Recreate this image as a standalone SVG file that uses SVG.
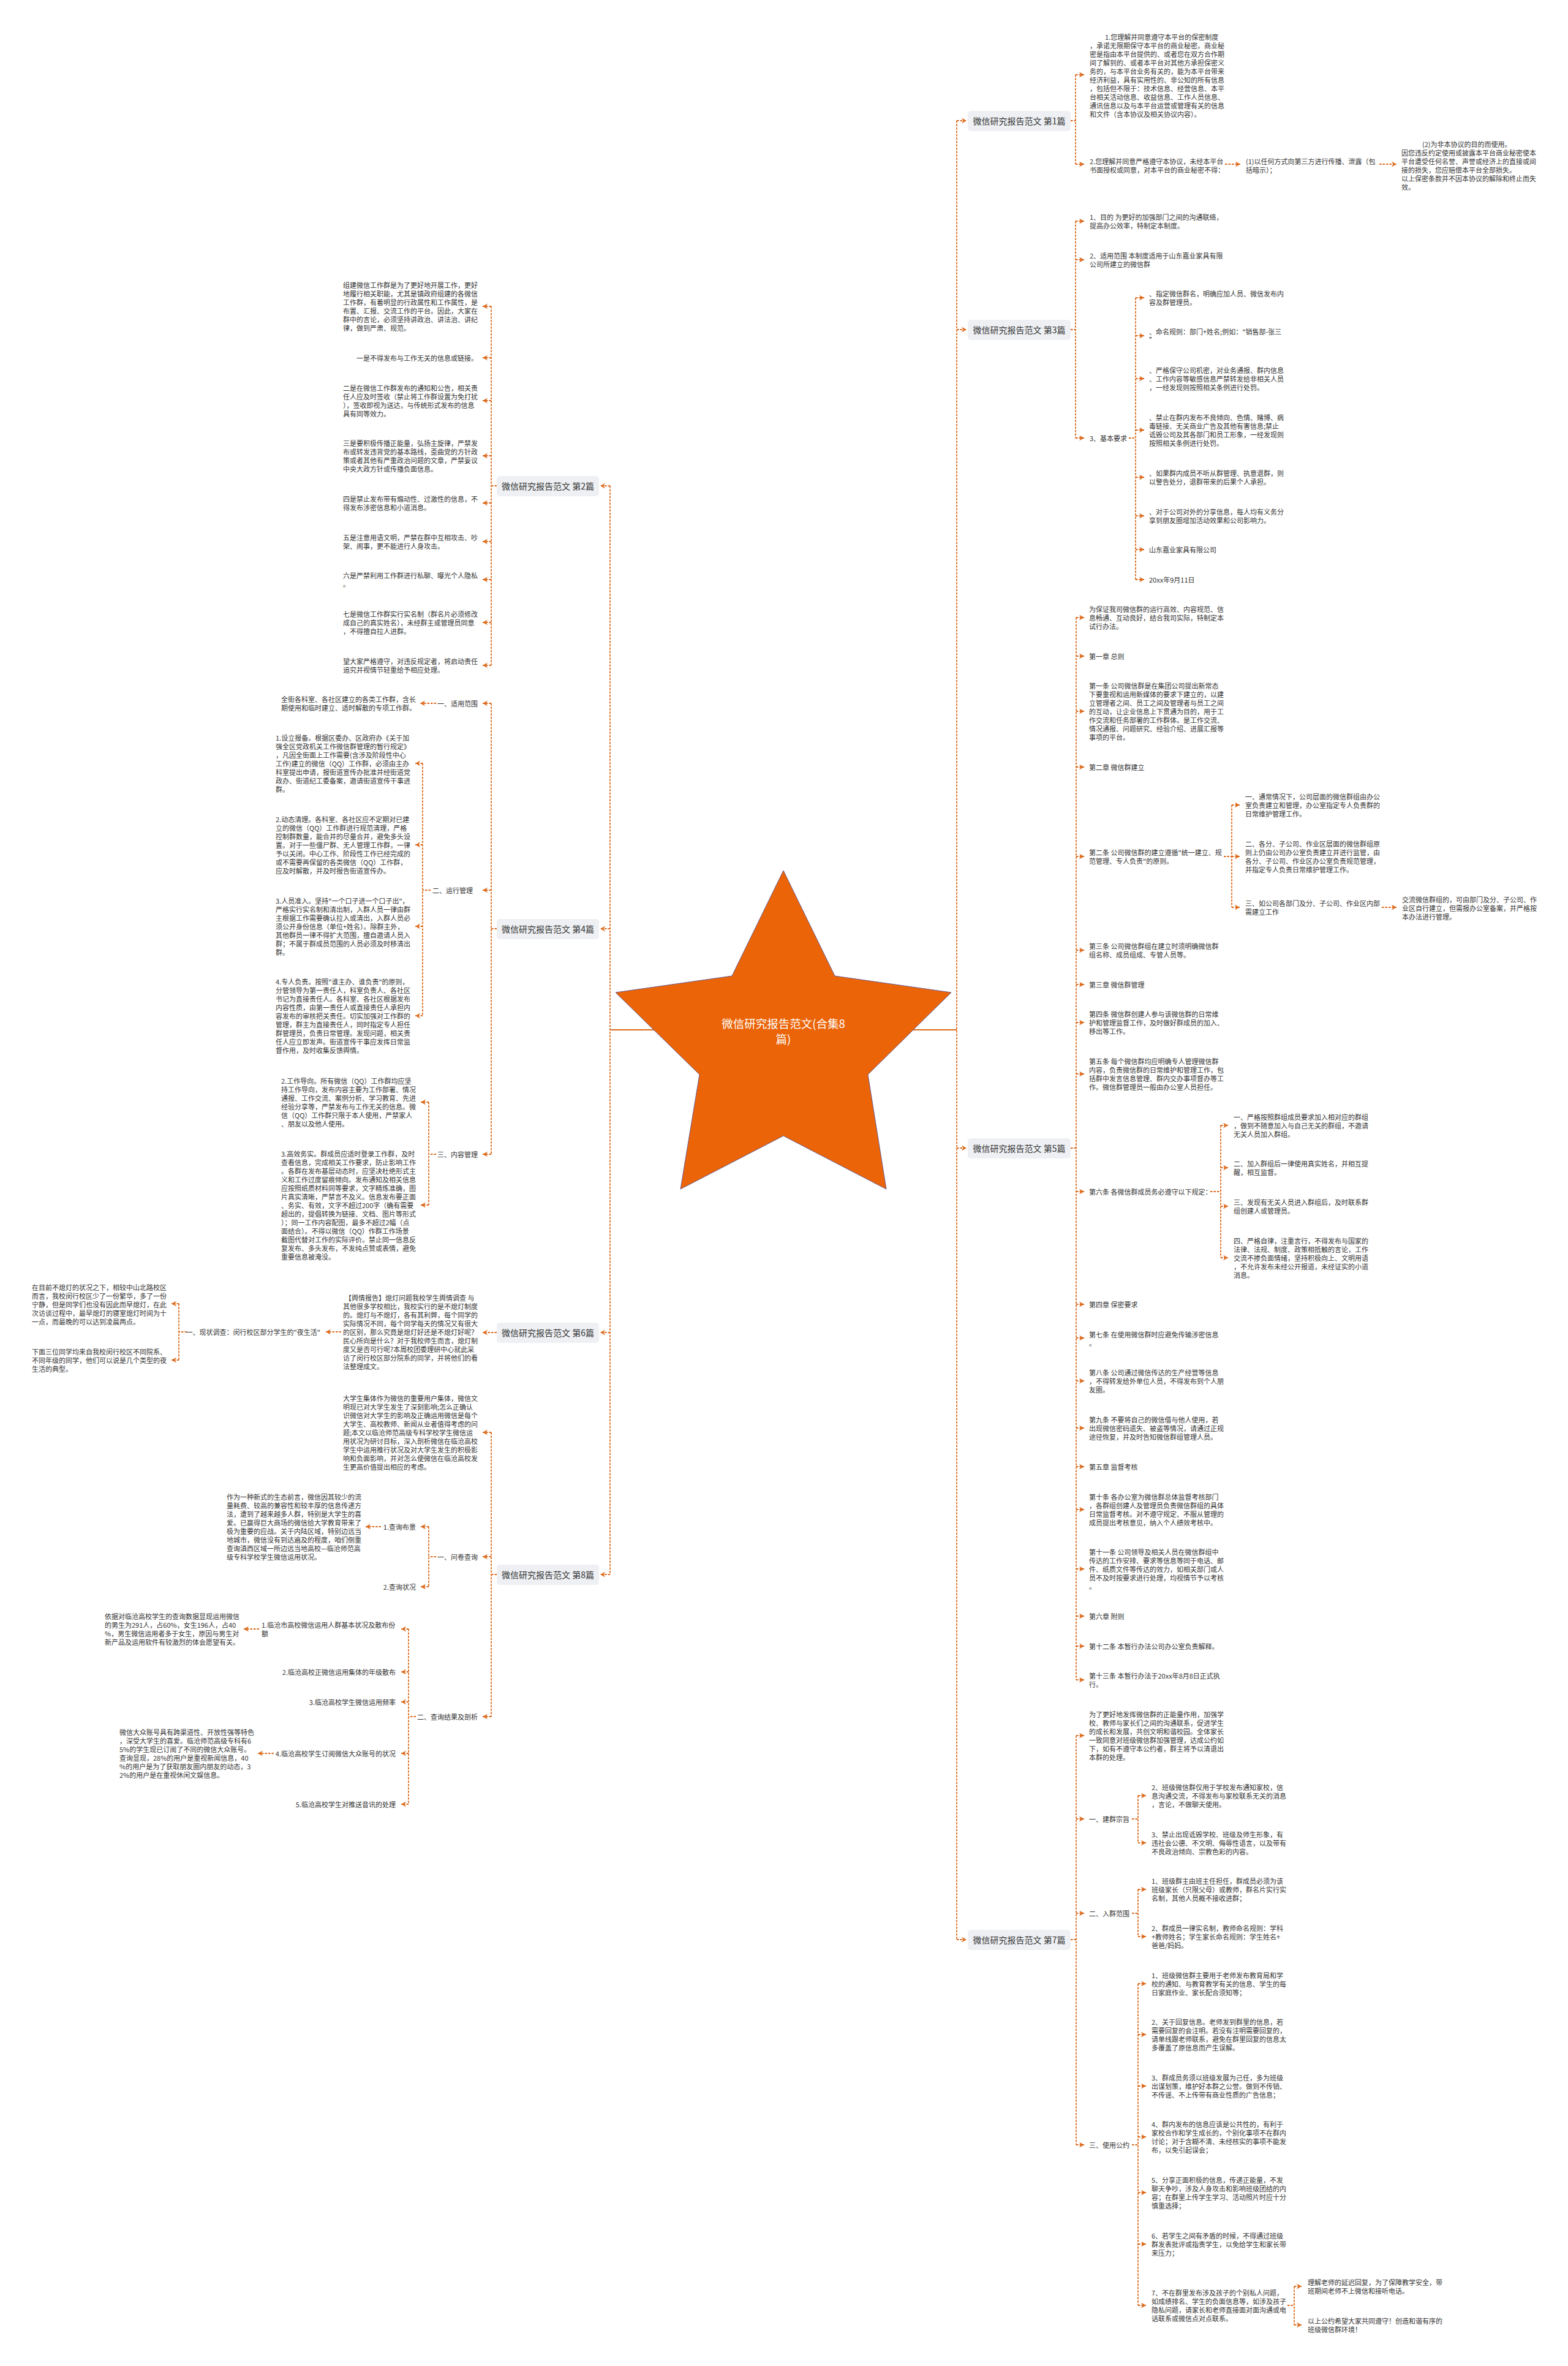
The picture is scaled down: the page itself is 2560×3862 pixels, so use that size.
<svg xmlns="http://www.w3.org/2000/svg" width="2560" height="3862" viewBox="0 0 2560 3862">
<style>
text{font-family:"Noto Sans CJK SC","Noto Sans",sans-serif;dominant-baseline:central}
.t{font-size:11px;fill:#333}
.e{text-anchor:end}
.n{font-size:14px;fill:#333;text-anchor:middle}
.bx{fill:#EEF0F3}
.c{fill:none;stroke:#DC6A1C;stroke-width:1.8;stroke-dasharray:3.5 2}
.h{marker-end:url(#a)}
.star{fill:#EB6407;stroke:#6B5B8E;stroke-width:1}
.title{font-size:18.5px;fill:#fff;text-anchor:middle}
</style>
<defs>
<marker id="a" markerUnits="userSpaceOnUse" markerWidth="10" markerHeight="10" refX="8" refY="4.5" orient="auto"><path d="M0,0 L8,4.5 L0,9 L2.5,4.5 Z" fill="#DC6A1C"/></marker>
</defs>
<rect width="2560" height="3862" fill="#fff"/>

<g id="connectors">
<path d="M996,1681 H1562" fill="none" stroke="#DC6A1C" stroke-width="2"/>
<path class="c" d="M1562,197 V3166 M996,793 V2570"/>
<path class="c h" d="M1562,197 H1578"/><path class="c h" d="M1562,538 H1578"/><path class="c h" d="M1562,1874 H1578"/><path class="c h" d="M1562,3166 H1578"/>
<path class="c h" d="M996,793 H980"/><path class="c h" d="M996,1516 H980"/><path class="c h" d="M996,2175 H980"/><path class="c h" d="M996,2570 H980"/>
<path class="c" d="M1748,197 H1756 M1756,122 V268"/>
<path class="c h" d="M1756,122 H1770"/><path class="c h" d="M1756,268 H1770"/>
<path class="c h" d="M2000,268 H2025"/><path class="c h" d="M2252,268 H2280"/>
<path class="c" d="M1748,538 H1756 M1756,361 V715"/>
<path class="c h" d="M1756,361 H1770"/><path class="c h" d="M1756,424 H1770"/><path class="c h" d="M1756,715 H1770"/>
<path class="c" d="M1843,715 H1854 M1854,486 V946"/>
<path class="c h" d="M1854,486 H1868"/><path class="c h" d="M1854,548 H1868"/><path class="c h" d="M1854,618 H1868"/><path class="c h" d="M1854,702 H1868"/><path class="c h" d="M1854,779 H1868"/><path class="c h" d="M1854,842 H1868"/><path class="c h" d="M1854,897 H1868"/><path class="c h" d="M1854,946 H1868"/>
<path class="c" d="M1748,1874 H1757 M1757,1008 V2742"/>
<path class="c h" d="M1757,1008 H1770"/><path class="c h" d="M1757,1071 H1770"/><path class="c h" d="M1757,1161 H1770"/><path class="c h" d="M1757,1252 H1770"/><path class="c h" d="M1757,1398 H1770"/><path class="c h" d="M1757,1551 H1770"/><path class="c h" d="M1757,1607 H1770"/><path class="c h" d="M1757,1669 H1770"/><path class="c h" d="M1757,1753 H1770"/><path class="c h" d="M1757,1945 H1770"/><path class="c h" d="M1757,2129 H1770"/><path class="c h" d="M1757,2184 H1770"/><path class="c h" d="M1757,2254 H1770"/><path class="c h" d="M1757,2331 H1770"/><path class="c h" d="M1757,2394 H1770"/><path class="c h" d="M1757,2464 H1770"/><path class="c h" d="M1757,2561 H1770"/><path class="c h" d="M1757,2638 H1770"/><path class="c h" d="M1757,2687 H1770"/><path class="c h" d="M1757,2742 H1770"/>
<path class="c" d="M1998,1398 H2011 M2011,1314 V1481"/>
<path class="c h" d="M2011,1314 H2024"/><path class="c h" d="M2011,1398 H2024"/><path class="c h" d="M2011,1481 H2024"/>
<path class="c h" d="M2256,1481 H2280"/>
<path class="c" d="M1976,1945 H1993 M1993,1837 V2053"/>
<path class="c h" d="M1993,1837 H2005"/><path class="c h" d="M1993,1906 H2005"/><path class="c h" d="M1993,1969 H2005"/><path class="c h" d="M1993,2053 H2005"/>
<path class="c" d="M1748,3166 H1757 M1757,2833 V3501"/>
<path class="c h" d="M1757,2833 H1770"/><path class="c h" d="M1757,2969 H1770"/><path class="c h" d="M1757,3123 H1770"/><path class="c h" d="M1757,3501 H1770"/>
<path class="c" d="M1848,2969 H1858 M1858,2931 V3008 M1848,3123 H1858 M1858,3084 V3161 M1848,3501 H1858 M1858,3238 V3763"/>
<path class="c h" d="M1858,2931 H1871"/><path class="c h" d="M1858,3008 H1871"/><path class="c h" d="M1858,3084 H1871"/><path class="c h" d="M1858,3161 H1871"/>
<path class="c h" d="M1858,3238 H1871"/><path class="c h" d="M1858,3321 H1871"/><path class="c h" d="M1858,3405 H1871"/><path class="c h" d="M1858,3488 H1871"/><path class="c h" d="M1858,3579 H1871"/><path class="c h" d="M1858,3663 H1871"/><path class="c h" d="M1858,3763 H1871"/>
<path class="c" d="M2102,3763 H2113 M2113,3732 V3795"/>
<path class="c h" d="M2113,3732 H2125"/><path class="c h" d="M2113,3795 H2125"/>
<path class="c" d="M811,793 H802 M802,500 V1086"/>
<path class="c h" d="M802,500 H788"/><path class="c h" d="M802,584 H788"/><path class="c h" d="M802,654 H788"/><path class="c h" d="M802,744 H788"/><path class="c h" d="M802,821 H788"/><path class="c h" d="M802,884 H788"/><path class="c h" d="M802,946 H788"/><path class="c h" d="M802,1016 H788"/><path class="c h" d="M802,1086 H788"/>
<path class="c" d="M811,1516 H802 M802,1148 V1884"/>
<path class="c h" d="M802,1148 H788"/><path class="c h" d="M802,1453 H788"/><path class="c h" d="M802,1884 H788"/>
<path class="c h" d="M712,1148 H686"/>
<path class="c" d="M703,1453 H690 M690,1246 V1658"/>
<path class="c h" d="M690,1246 H678"/><path class="c h" d="M690,1379 H678"/><path class="c h" d="M690,1512 H678"/><path class="c h" d="M690,1658 H678"/>
<path class="c" d="M712,1884 H700 M700,1799 V1967"/>
<path class="c h" d="M700,1799 H687"/><path class="c h" d="M700,1967 H687"/>
<path class="c h" d="M811,2175 H788"/>
<path class="c h" d="M557,2174 H532"/>
<path class="c" d="M305,2174 H292 M292,2128 V2220"/>
<path class="c h" d="M292,2128 H280"/><path class="c h" d="M292,2220 H280"/>
<path class="c" d="M811,2570 H802 M802,2338 V2802"/>
<path class="c h" d="M802,2338 H788"/><path class="c h" d="M802,2541 H788"/><path class="c h" d="M802,2802 H788"/>
<path class="c" d="M712,2541 H700 M700,2492 V2590"/>
<path class="c h" d="M700,2492 H687"/><path class="c h" d="M700,2590 H687"/>
<path class="c h" d="M622,2492 H597"/>
<path class="c" d="M679,2802 H667 M667,2659 V2945"/>
<path class="c h" d="M667,2659 H655"/><path class="c h" d="M667,2729 H655"/><path class="c h" d="M667,2778 H655"/><path class="c h" d="M667,2862 H655"/><path class="c h" d="M667,2945 H655"/>
<path class="c h" d="M423,2659 H398"/><path class="c h" d="M447,2862 H421"/>
</g>

<g id="root">
<polygon class="star" points="1279,1421 1363,1593 1553,1620 1417,1754 1447,1941 1279,1854 1111,1941 1142,1754 1005,1620 1195,1593"/>
<text class="title"><tspan x="1279" y="1670">微信研究报告范文(合集8</tspan><tspan x="1279" y="1695">篇)</tspan></text>
</g>

<g id="n1"><rect class="bx" x="1580" y="181" width="168" height="33" rx="5"/><text class="n" x="1664" y="197">微信研究报告范文 第1篇</text></g>
<g id="n1-1"><text class="t"><tspan x="1804" y="60">1.您理解并同意遵守本平台的保密制度</tspan><tspan x="1779" y="74">，承诺无限期保守本平台的商业秘密。商业秘</tspan><tspan x="1779" y="88">密是指由本平台提供的、或者您在双方合作期</tspan><tspan x="1779" y="102">间了解到的、或者本平台对其他方承担保密义</tspan><tspan x="1779" y="116">务的，与本平台业务有关的，能为本平台带来</tspan><tspan x="1779" y="130">经济利益，具有实用性的、非公知的所有信息</tspan><tspan x="1779" y="144">，包括但不限于：技术信息、经营信息、本平</tspan><tspan x="1779" y="158">台相关活动信息、收益信息、工作人员信息、</tspan><tspan x="1779" y="172">通讯信息以及与本平台运营或管理有关的信息</tspan><tspan x="1779" y="186">和文件（含本协议及相关协议内容）。</tspan></text></g>
<g id="n1-2"><text class="t"><tspan x="1779" y="263">2.您理解并同意严格遵守本协议，未经本平台</tspan><tspan x="1779" y="277">书面授权或同意，对本平台的商业秘密不得：</tspan></text></g>
<g id="n1-2-1"><text class="t"><tspan x="2034" y="263">(1)以任何方式向第三方进行传播、泄露（包</tspan><tspan x="2034" y="277">括暗示）；</tspan></text></g>
<g id="n1-2-1-1"><text class="t"><tspan x="2322" y="235">(2)为非本协议的目的而使用。</tspan><tspan x="2288" y="249">因您违反约定使用或披露本平台商业秘密使本</tspan><tspan x="2288" y="263">平台遭受任何名誉、声誉或经济上的直接或间</tspan><tspan x="2288" y="277">接的损失，您应赔偿本平台全部损失。</tspan><tspan x="2288" y="291">以上保密条款并不因本协议的解除和终止而失</tspan><tspan x="2288" y="305">效。</tspan></text></g>

<g id="n3"><rect class="bx" x="1580" y="522" width="168" height="33" rx="5"/><text class="n" x="1664" y="538">微信研究报告范文 第3篇</text></g>
<g id="n3-1"><text class="t"><tspan x="1779" y="354">1、目的 为更好的加强部门之间的沟通联络，</tspan><tspan x="1779" y="368">提高办公效率，特制定本制度。</tspan></text></g>
<g id="n3-2"><text class="t"><tspan x="1779" y="417">2、适用范围 本制度适用于山东嘉业家具有限</tspan><tspan x="1779" y="431">公司所建立的微信群</tspan></text></g>
<g id="n3-3"><text class="t" x="1779" y="715">3、基本要求</text></g>
<g id="n3-3-1"><text class="t"><tspan x="1876" y="479">、指定微信群名，明确应加人员、微信发布内</tspan><tspan x="1876" y="493">容及群管理员。</tspan></text></g>
<g id="n3-3-2"><text class="t"><tspan x="1876" y="541">、命名规则：部门+姓名;例如："销售部-张三</tspan><tspan x="1876" y="555">”</tspan></text></g>
<g id="n3-3-3"><text class="t"><tspan x="1876" y="604">、严格保守公司机密，对业务通报、群内信息</tspan><tspan x="1876" y="618">、工作内容等敏感信息严禁转发给非相关人员</tspan><tspan x="1876" y="632">，一经发现则按照相关条例进行处罚。</tspan></text></g>
<g id="n3-3-4"><text class="t"><tspan x="1876" y="681">、禁止在群内发布不良倾向、色情、赌博、病</tspan><tspan x="1876" y="695">毒链接、无关商业广告及其他有害信息;禁止</tspan><tspan x="1876" y="709">诋毁公司及其各部门和员工形象，一经发现则</tspan><tspan x="1876" y="723">按照相关条例进行处罚。</tspan></text></g>
<g id="n3-3-5"><text class="t"><tspan x="1876" y="772">、如果群内成员不听从群管理、执意退群，则</tspan><tspan x="1876" y="786">以警告处分，退群带来的后果个人承担。</tspan></text></g>
<g id="n3-3-6"><text class="t"><tspan x="1876" y="835">、对于公司对外的分享信息，每人均有义务分</tspan><tspan x="1876" y="849">享到朋友圈增加活动效果和公司影响力。</tspan></text></g>
<g id="n3-3-7"><text class="t" x="1876" y="897">山东嘉业家具有限公司</text></g>
<g id="n3-3-8"><text class="t" x="1876" y="946">20xx年9月11日</text></g>

<g id="n5"><rect class="bx" x="1580" y="1858" width="168" height="33" rx="5"/><text class="n" x="1664" y="1874">微信研究报告范文 第5篇</text></g>
<g id="n5-1"><text class="t"><tspan x="1778" y="994">为保证我司微信群的运行高效、内容规范、信</tspan><tspan x="1778" y="1008">息畅通、互动良好，结合我司实际，特制定本</tspan><tspan x="1778" y="1022">试行办法。</tspan></text></g>
<g id="n5-2"><text class="t" x="1778" y="1071">第一章 总则</text></g>
<g id="n5-3"><text class="t"><tspan x="1778" y="1119">第一条 公司微信群是在集团公司提出新常态</tspan><tspan x="1778" y="1133">下要重视和运用新媒体的要求下建立的，以建</tspan><tspan x="1778" y="1147">立管理者之间、员工之间及管理者与员工之间</tspan><tspan x="1778" y="1161">的互动，让企业信息上下贯通为目的，用于工</tspan><tspan x="1778" y="1175">作交流和任务部署的工作群体。是工作交流、</tspan><tspan x="1778" y="1189">情况通报、问题研究、经验介绍、进展汇报等</tspan><tspan x="1778" y="1203">事项的平台。</tspan></text></g>
<g id="n5-4"><text class="t" x="1778" y="1252">第二章 微信群建立</text></g>
<g id="n5-5"><text class="t"><tspan x="1778" y="1391">第二条 公司微信群的建立遵循"统一建立、规</tspan><tspan x="1778" y="1405">范管理、专人负责"的原则。</tspan></text></g>
<g id="n5-5-1"><text class="t"><tspan x="2033" y="1300">一、通常情况下，公司层面的微信群组由办公</tspan><tspan x="2033" y="1314">室负责建立和管理，办公室指定专人负责群的</tspan><tspan x="2033" y="1328">日常维护管理工作。</tspan></text></g>
<g id="n5-5-2"><text class="t"><tspan x="2033" y="1377">二、各分、子公司、作业区层面的微信群组原</tspan><tspan x="2033" y="1391">则上仍由公司办公室负责建立并进行监管，由</tspan><tspan x="2033" y="1405">各分、子公司、作业区办公室负责规范管理，</tspan><tspan x="2033" y="1419">并指定专人负责日常维护管理工作。</tspan></text></g>
<g id="n5-5-3"><text class="t"><tspan x="2033" y="1474">三、如公司各部门及分、子公司、作业区内部</tspan><tspan x="2033" y="1488">需建立工作</tspan></text></g>
<g id="n5-5-3-1"><text class="t"><tspan x="2289" y="1468">交流微信群组的，可由部门及分、子公司、作</tspan><tspan x="2289" y="1482">业区自行建立，但需报办公室备案，并严格按</tspan><tspan x="2289" y="1496">本办法进行管理。</tspan></text></g>
<g id="n5-6"><text class="t"><tspan x="1778" y="1544">第三条 公司微信群组在建立时须明确微信群</tspan><tspan x="1778" y="1558">组名称、成员组成、专管人员等。</tspan></text></g>
<g id="n5-7"><text class="t" x="1778" y="1607">第三章 微信群管理</text></g>
<g id="n5-8"><text class="t"><tspan x="1778" y="1655">第四条 微信群创建人参与该微信群的日常维</tspan><tspan x="1778" y="1669">护和管理监督工作，及时做好群成员的加入、</tspan><tspan x="1778" y="1683">移出等工作。</tspan></text></g>
<g id="n5-9"><text class="t"><tspan x="1778" y="1732">第五条 每个微信群均应明确专人管理微信群</tspan><tspan x="1778" y="1746">内容，负责微信群的日常维护和管理工作，包</tspan><tspan x="1778" y="1760">括群中发言信息管理、群内交办事项督办等工</tspan><tspan x="1778" y="1774">作。微信群管理员一般由办公室人员担任。</tspan></text></g>
<g id="n5-10"><text class="t" x="1778" y="1945">第六条 各微信群成员务必遵守以下规定：</text></g>
<g id="n5-10-1"><text class="t"><tspan x="2014" y="1823">一、严格按照群组成员要求加入相对应的群组</tspan><tspan x="2014" y="1837">，做到不随意加入与自己无关的群组，不邀请</tspan><tspan x="2014" y="1851">无关人员加入群组。</tspan></text></g>
<g id="n5-10-2"><text class="t"><tspan x="2014" y="1899">二、加入群组后一律使用真实姓名，并相互提</tspan><tspan x="2014" y="1913">醒，相互监督。</tspan></text></g>
<g id="n5-10-3"><text class="t"><tspan x="2014" y="1962">三、发现有无关人员进入群组后，及时联系群</tspan><tspan x="2014" y="1976">组创建人或管理员。</tspan></text></g>
<g id="n5-10-4"><text class="t"><tspan x="2014" y="2025">四、严格自律，注重言行，不得发布与国家的</tspan><tspan x="2014" y="2039">法律、法规、制度、政策相抵触的言论，工作</tspan><tspan x="2014" y="2053">交流不掺负面情绪，坚持积极向上、文明用语</tspan><tspan x="2014" y="2067">，不允许发布未经公开报道，未经证实的小道</tspan><tspan x="2014" y="2081">消息。</tspan></text></g>
<g id="n5-11"><text class="t" x="1778" y="2129">第四章 保密要求</text></g>
<g id="n5-12"><text class="t"><tspan x="1778" y="2178">第七条 在使用微信群时应避免传输涉密信息</tspan><tspan x="1778" y="2192">。</tspan></text></g>
<g id="n5-13"><text class="t"><tspan x="1778" y="2240">第八条 公司通过微信传达的生产经营等信息</tspan><tspan x="1778" y="2254">，不得转发给外单位人员，不得发布到个人朋</tspan><tspan x="1778" y="2268">友圈。</tspan></text></g>
<g id="n5-14"><text class="t"><tspan x="1778" y="2317">第九条 不要将自己的微信借与他人使用，若</tspan><tspan x="1778" y="2331">出现微信密码遗失、被盗等情况，请通过正规</tspan><tspan x="1778" y="2345">途径恢复，并及时告知微信群组管理人员。</tspan></text></g>
<g id="n5-15"><text class="t" x="1778" y="2394">第五章 监督考核</text></g>
<g id="n5-16"><text class="t"><tspan x="1778" y="2443">第十条 各办公室为微信群总体监督考核部门</tspan><tspan x="1778" y="2457">，各群组创建人及管理员负责微信群组的具体</tspan><tspan x="1778" y="2471">日常监督考核。对不遵守规定、不服从管理的</tspan><tspan x="1778" y="2485">成员提出考核意见，纳入个人绩效考核中。</tspan></text></g>
<g id="n5-17"><text class="t"><tspan x="1778" y="2533">第十一条 公司领导及相关人员在微信群组中</tspan><tspan x="1778" y="2547">传达的工作安排、要求等信息等同于电话、邮</tspan><tspan x="1778" y="2561">件、纸质文件等传达的效力，如相关部门或人</tspan><tspan x="1778" y="2575">员不及时按要求进行处理，均视情节予以考核</tspan><tspan x="1778" y="2589">。</tspan></text></g>
<g id="n5-18"><text class="t" x="1778" y="2638">第六章 附则</text></g>
<g id="n5-19"><text class="t" x="1778" y="2687">第十二条 本暂行办法公司办公室负责解释。</text></g>
<g id="n5-20"><text class="t"><tspan x="1778" y="2735">第十三条 本暂行办法于20xx年8月8日正式执</tspan><tspan x="1778" y="2749">行。</tspan></text></g>

<g id="n7"><rect class="bx" x="1580" y="3150" width="168" height="33" rx="5"/><text class="n" x="1664" y="3166">微信研究报告范文 第7篇</text></g>
<g id="n7-1"><text class="t"><tspan x="1778" y="2798">为了更好地发挥微信群的正能量作用，加强学</tspan><tspan x="1778" y="2812">校、教师与家长们之间的沟通联系，促进学生</tspan><tspan x="1778" y="2826">的成长和发展，共创文明和谐校园。全体家长</tspan><tspan x="1778" y="2840">一致同意对班级微信群加强管理，达成公约如</tspan><tspan x="1778" y="2854">下，如有不遵守本公约者，群主将予以清退出</tspan><tspan x="1778" y="2868">本群的处理。</tspan></text></g>
<g id="n7-2"><text class="t" x="1778" y="2969">一、建群宗旨</text></g>
<g id="n7-2-1"><text class="t"><tspan x="1880" y="2917">2、班级微信群仅用于学校发布通知家校，信</tspan><tspan x="1880" y="2931">息沟通交流，不得发布与家校联系无关的消息</tspan><tspan x="1880" y="2945">，言论，不做聊天使用。</tspan></text></g>
<g id="n7-2-2"><text class="t"><tspan x="1880" y="2994">3、禁止出现诋毁学校、班级及师生形象，有</tspan><tspan x="1880" y="3008">违社会公德、不文明、侮辱性语言，以及带有</tspan><tspan x="1880" y="3022">不良政治倾向、宗教色彩的内容。</tspan></text></g>
<g id="n7-3"><text class="t" x="1778" y="3123">二、入群范围</text></g>
<g id="n7-3-1"><text class="t"><tspan x="1880" y="3070">1、班级群主由班主任担任，群成员必须为该</tspan><tspan x="1880" y="3084">班级家长（只限父母）或教师，群名片实行实</tspan><tspan x="1880" y="3098">名制，其他人员概不接收进群；</tspan></text></g>
<g id="n7-3-2"><text class="t"><tspan x="1880" y="3147">2、群成员一律实名制，教师命名规则：学科</tspan><tspan x="1880" y="3161">+教师姓名；学生家长命名规则：学生姓名+</tspan><tspan x="1880" y="3175">爸爸/妈妈。</tspan></text></g>
<g id="n7-4"><text class="t" x="1778" y="3501">三、使用公约</text></g>
<g id="n7-4-1"><text class="t"><tspan x="1880" y="3224">1、班级微信群主要用于老师发布教育局和学</tspan><tspan x="1880" y="3238">校的通知、与教育教学有关的信息、学生的每</tspan><tspan x="1880" y="3252">日家庭作业、家长配合须知等；</tspan></text></g>
<g id="n7-4-2"><text class="t"><tspan x="1880" y="3300">2、关于回复信息。老师发到群里的信息，若</tspan><tspan x="1880" y="3314">需要回复的会注明。若没有注明需要回复的，</tspan><tspan x="1880" y="3328">请单线跟老师联系，避免在群里回复的信息太</tspan><tspan x="1880" y="3342">多覆盖了原信息而产生误解。</tspan></text></g>
<g id="n7-4-3"><text class="t"><tspan x="1880" y="3391">3、群成员务须以班级发展为己任，多为班级</tspan><tspan x="1880" y="3405">出谋划策，维护好本群之公誉。做到不传销、</tspan><tspan x="1880" y="3419">不传谣、不上传带有商业性质的广告信息；</tspan></text></g>
<g id="n7-4-4"><text class="t"><tspan x="1880" y="3467">4、群内发布的信息应该是公共性的，有利于</tspan><tspan x="1880" y="3481">家校合作和学生成长的，个别化事项不在群内</tspan><tspan x="1880" y="3495">讨论；对于含糊不清、未经核实的事项不能发</tspan><tspan x="1880" y="3509">布，以免引起误会；</tspan></text></g>
<g id="n7-4-5"><text class="t"><tspan x="1880" y="3558">5、分享正面积极的信息，传递正能量，不发</tspan><tspan x="1880" y="3572">聊天争吵，涉及人身攻击和影响班级团结的内</tspan><tspan x="1880" y="3586">容；在群里上传学生学习、活动照片时应十分</tspan><tspan x="1880" y="3600">慎重选择；</tspan></text></g>
<g id="n7-4-6"><text class="t"><tspan x="1880" y="3649">6、若学生之间有矛盾的时候，不得通过班级</tspan><tspan x="1880" y="3663">群发表批评或指责学生，以免给学生和家长带</tspan><tspan x="1880" y="3677">来压力；</tspan></text></g>
<g id="n7-4-7"><text class="t"><tspan x="1880" y="3742">7、不在群里发布涉及孩子的个别私人问题，</tspan><tspan x="1880" y="3756">如成绩排名、学生的负面信息等，如涉及孩子</tspan><tspan x="1880" y="3770">隐私问题，请家长和老师直接面对面沟通或电</tspan><tspan x="1880" y="3784">话联系或微信点对点联系。</tspan></text></g>
<g id="n7-4-7-1"><text class="t"><tspan x="2135" y="3725">理解老师的延迟回复，为了保障教学安全，带</tspan><tspan x="2135" y="3739">班期间老师不上微信和接听电话。</tspan></text></g>
<g id="n7-4-7-2"><text class="t"><tspan x="2135" y="3788">以上公约希望大家共同遵守！创造和谐有序的</tspan><tspan x="2135" y="3802">班级微信群环境！</tspan></text></g>

<g id="n2"><rect class="bx" x="811" y="777" width="167" height="33" rx="5"/><text class="n" x="894.5" y="793">微信研究报告范文 第2篇</text></g>
<g id="n2-1"><text class="t"><tspan x="560" y="465">组建微信工作群是为了更好地开展工作，更好</tspan><tspan x="560" y="479">地履行相关职能，尤其是镇政府组建的各微信</tspan><tspan x="560" y="493">工作群，有着明显的行政属性和工作属性，是</tspan><tspan x="560" y="507">布置、汇报、交流工作的平台。因此，大家在</tspan><tspan x="560" y="521">群中的言论，必须坚持讲政治、讲法治、讲纪</tspan><tspan x="560" y="535">律，做到严肃、规范。</tspan></text></g>
<g id="n2-2"><text class="t e" x="780" y="584">一是不得发布与工作无关的信息或链接。</text></g>
<g id="n2-3"><text class="t"><tspan x="560" y="633">二是在微信工作群发布的通知和公告，相关责</tspan><tspan x="560" y="647">任人应及时签收（禁止将工作群设置为免打扰</tspan><tspan x="560" y="661">），签收即视为送达，与传统形式发布的信息</tspan><tspan x="560" y="675">具有同等效力。</tspan></text></g>
<g id="n2-4"><text class="t"><tspan x="560" y="723">三是要积极传播正能量，弘扬主旋律，严禁发</tspan><tspan x="560" y="737">布或转发违背党的基本路线，歪曲党的方针政</tspan><tspan x="560" y="751">策或者其他有严重政治问题的文章，严禁妄议</tspan><tspan x="560" y="765">中央大政方针或传播负面信息。</tspan></text></g>
<g id="n2-5"><text class="t"><tspan x="560" y="814">四是禁止发布带有煽动性、过激性的信息，不</tspan><tspan x="560" y="828">得发布涉密信息和小道消息。</tspan></text></g>
<g id="n2-6"><text class="t"><tspan x="560" y="877">五是注意用语文明，严禁在群中互相攻击、吵</tspan><tspan x="560" y="891">架、闹事，更不能进行人身攻击。</tspan></text></g>
<g id="n2-7"><text class="t"><tspan x="560" y="939">六是严禁利用工作群进行私聊、曝光个人隐私</tspan><tspan x="560" y="953">。</tspan></text></g>
<g id="n2-8"><text class="t"><tspan x="560" y="1002">七是微信工作群实行实名制（群名片必须修改</tspan><tspan x="560" y="1016">成自己的真实姓名），未经群主或管理员同意</tspan><tspan x="560" y="1030">，不得擅自拉人进群。</tspan></text></g>
<g id="n2-9"><text class="t"><tspan x="560" y="1079">望大家严格遵守，对违反规定者，将启动责任</tspan><tspan x="560" y="1093">追究并视情节轻重给予相应处理。</tspan></text></g>

<g id="n4"><rect class="bx" x="811" y="1500" width="167" height="33" rx="5"/><text class="n" x="894.5" y="1516">微信研究报告范文 第4篇</text></g>
<g id="n4-1"><text class="t e" x="780" y="1148">一、适用范围</text></g>
<g id="n4-1-1"><text class="t"><tspan x="459" y="1141">全街各科室、各社区建立的各类工作群，含长</tspan><tspan x="459" y="1155">期使用和临时建立、适时解散的专项工作群。</tspan></text></g>
<g id="n4-2"><text class="t e" x="772" y="1453">二、运行管理</text></g>
<g id="n4-2-1"><text class="t"><tspan x="450" y="1204">1.设立报备。根据区委办、区政府办《关于加</tspan><tspan x="450" y="1218">强全区党政机关工作微信群管理的暂行规定》</tspan><tspan x="450" y="1232">，凡因全街面上工作需要(含涉及阶段性中心</tspan><tspan x="450" y="1246">工作)建立的微信（QQ）工作群，必须由主办</tspan><tspan x="450" y="1260">科室提出申请，报街道宣传办批准并经街道党</tspan><tspan x="450" y="1274">政办、街道纪工委备案，邀请街道宣传干事进</tspan><tspan x="450" y="1288">群。</tspan></text></g>
<g id="n4-2-2"><text class="t"><tspan x="450" y="1337">2.动态清理。各科室、各社区应不定期对已建</tspan><tspan x="450" y="1351">立的微信（QQ）工作群进行规范清理，严格</tspan><tspan x="450" y="1365">控制群数量，能合并的尽量合并，避免多头设</tspan><tspan x="450" y="1379">置。对于一些僵尸群、无人管理工作群，一律</tspan><tspan x="450" y="1393">予以关闭。中心工作、阶段性工作已经完成的</tspan><tspan x="450" y="1407">或不需要再保留的各类微信（QQ）工作群，</tspan><tspan x="450" y="1421">应及时解散，并及时报告街道宣传办。</tspan></text></g>
<g id="n4-2-3"><text class="t"><tspan x="450" y="1470">3.人员准入。坚持"一个口子进一个口子出"，</tspan><tspan x="450" y="1484">严格实行实名制和清出制，入群人员一律由群</tspan><tspan x="450" y="1498">主根据工作需要确认拉入或清出，入群人员必</tspan><tspan x="450" y="1512">须公开身份信息（单位+姓名）。除群主外，</tspan><tspan x="450" y="1526">其他群员一律不得扩大范围，擅自邀请人员入</tspan><tspan x="450" y="1540">群；不属于群成员范围的人员必须及时移清出</tspan><tspan x="450" y="1554">群。</tspan></text></g>
<g id="n4-2-4"><text class="t"><tspan x="450" y="1602">4.专人负责。按照"谁主办、谁负责"的原则，</tspan><tspan x="450" y="1616">分管领导为第一责任人，科室负责人、各社区</tspan><tspan x="450" y="1630">书记为直接责任人。各科室、各社区根据发布</tspan><tspan x="450" y="1644">内容性质，由第一责任人或直接责任人承担内</tspan><tspan x="450" y="1658">容发布的审核把关责任。切实加强对工作群的</tspan><tspan x="450" y="1672">管理，群主为直接责任人，同时指定专人担任</tspan><tspan x="450" y="1686">群管理员，负责日常管理。发现问题，相关责</tspan><tspan x="450" y="1700">任人应立即发声。街道宣传干事应发挥日常监</tspan><tspan x="450" y="1714">督作用，及时收集反馈舆情。</tspan></text></g>
<g id="n4-3"><text class="t e" x="780" y="1884">三、内容管理</text></g>
<g id="n4-3-1"><text class="t"><tspan x="459" y="1764">2.工作导向。所有微信（QQ）工作群均应坚</tspan><tspan x="459" y="1778">持工作导向，发布内容主要为工作部署、情况</tspan><tspan x="459" y="1792">通报、工作交流、案例分析、学习教育、先进</tspan><tspan x="459" y="1806">经验分享等，严禁发布与工作无关的信息。微</tspan><tspan x="459" y="1820">信（QQ）工作群只限于本人使用，严禁家人</tspan><tspan x="459" y="1834">、朋友以及他人使用。</tspan></text></g>
<g id="n4-3-2"><text class="t"><tspan x="459" y="1883">3.高效务实。群成员应适时登录工作群，及时</tspan><tspan x="459" y="1897">查看信息，完成相关工作要求，防止影响工作</tspan><tspan x="459" y="1911">。各群在发布基层动态时，应坚决杜绝形式主</tspan><tspan x="459" y="1925">义和工作过度留痕倾向。发布通知及相关信息</tspan><tspan x="459" y="1939">应按照纸质材料同等要求，文字精炼准确，图</tspan><tspan x="459" y="1953">片真实清晰，严禁言不及义。信息发布要正面</tspan><tspan x="459" y="1967">、务实、有效，文字不超过200字（确有需要</tspan><tspan x="459" y="1981">超出的，提倡转换为链接、文档、图片等形式</tspan><tspan x="459" y="1995">）；同一工作内容配图，最多不超过2幅（点</tspan><tspan x="459" y="2009">面结合）。不得以微信（QQ）作群工作场景</tspan><tspan x="459" y="2023">截图代替对工作的实际评价。禁止同一信息反</tspan><tspan x="459" y="2037">复发布、多头发布，不发纯点赞或表情，避免</tspan><tspan x="459" y="2051">重要信息被淹没。</tspan></text></g>

<g id="n6"><rect class="bx" x="811" y="2159" width="167" height="33" rx="5"/><text class="n" x="894.5" y="2175">微信研究报告范文 第6篇</text></g>
<g id="n6-1"><text class="t"><tspan x="563" y="2118">【舆情报告】熄灯问题我校学生舆情调查  与</tspan><tspan x="560" y="2132">其他很多学校相比，我校实行的是不熄灯制度</tspan><tspan x="560" y="2146">的。熄灯与不熄灯，各有其利弊，每个同学的</tspan><tspan x="560" y="2160">实际情况不同，每个同学每天的情况又有很大</tspan><tspan x="560" y="2174">的区别，那么究竟是熄灯好还是不熄灯好呢？</tspan><tspan x="560" y="2188">民心所向是什么？对于我校师生而言，熄灯制</tspan><tspan x="560" y="2202">度又是否可行呢?本周校团委理研中心就此采</tspan><tspan x="560" y="2216">访了闵行校区部分院系的同学，并将他们的看</tspan><tspan x="560" y="2230">法整理成文。</tspan></text></g>
<g id="n6-1-1"><text class="t e" x="523" y="2174">一、现状调查：闵行校区部分学生的"夜生活"</text></g>
<g id="n6-1-1-1"><text class="t"><tspan x="52" y="2101">在目前不熄灯的状况之下，相较中山北路校区</tspan><tspan x="52" y="2115">而言，我校闵行校区少了一份繁华，多了一份</tspan><tspan x="52" y="2129">宁静，但是同学们也没有因此而早熄灯，在此</tspan><tspan x="52" y="2143">次访谈过程中，最早熄灯的寝室熄灯时间为十</tspan><tspan x="52" y="2157">一点，而最晚的可以达到凌晨两点。</tspan></text></g>
<g id="n6-1-1-2"><text class="t"><tspan x="52" y="2206">下面三位同学均来自我校闵行校区不同院系、</tspan><tspan x="52" y="2220">不同年级的同学，他们可以说是几个类型的夜</tspan><tspan x="52" y="2234">生活的典型。</tspan></text></g>

<g id="n8"><rect class="bx" x="811" y="2554" width="167" height="33" rx="5"/><text class="n" x="894.5" y="2570">微信研究报告范文 第8篇</text></g>
<g id="n8-1"><text class="t"><tspan x="560" y="2282">大学生集体作为微信的重要用户集体，微信文</tspan><tspan x="560" y="2296">明现已对大学生发生了深刻影响;怎么正确认</tspan><tspan x="560" y="2310">识微信对大学生的影响及正确运用微信是每个</tspan><tspan x="560" y="2324">大学生、高校教师、新闻从业者值得考虑的问</tspan><tspan x="560" y="2338">题;本文以临沧师范高级专科学校学生微信运</tspan><tspan x="560" y="2352">用状况为研讨目标，深入剖析微信在临沧高校</tspan><tspan x="560" y="2366">学生中运用推行状况及对大学生发生的积极影</tspan><tspan x="560" y="2380">响和负面影响，并对怎么使微信在临沧高校发</tspan><tspan x="560" y="2394">生更高价值提出相应的考虑。</tspan></text></g>
<g id="n8-2"><text class="t e" x="780" y="2541">一、问卷查询</text></g>
<g id="n8-2-1"><text class="t e" x="679" y="2492">1.查询布景</text></g>
<g id="n8-2-1-1"><text class="t"><tspan x="370" y="2443">作为一种新式的生态前言，微信因其较少的流</tspan><tspan x="370" y="2457">量耗费、较高的兼容性和较丰厚的信息传递方</tspan><tspan x="370" y="2471">法，遭到了越来越多人群，特别是大学生的喜</tspan><tspan x="370" y="2485">爱。已赢得巨大商场的微信给大学教育带来了</tspan><tspan x="370" y="2499">极为重要的应战。关于内陆区域，特别边远当</tspan><tspan x="370" y="2513">地城市，微信没有到达遍及的程度，咱们侧重</tspan><tspan x="370" y="2527">查询滇西区域一所边远当地高校—临沧师范高</tspan><tspan x="370" y="2541">级专科学校学生微信运用状况。</tspan></text></g>
<g id="n8-2-2"><text class="t e" x="679" y="2590">2.查询状况</text></g>
<g id="n8-3"><text class="t e" x="780" y="2802">二、查询结果及剖析</text></g>
<g id="n8-3-1"><text class="t"><tspan x="427" y="2652">1.临沧市高校微信运用人群基本状况及散布份</tspan><tspan x="427" y="2666">额</tspan></text></g>
<g id="n8-3-1-1"><text class="t"><tspan x="171" y="2638">依据对临沧高校学生的查询数据显现运用微信</tspan><tspan x="171" y="2652">的男生为291人，占60%，女生196人，占40</tspan><tspan x="171" y="2666">%，男生微信运用者多于女生，原因与男生对</tspan><tspan x="171" y="2680">新产品及运用软件有较激烈的体会愿望有关。</tspan></text></g>
<g id="n8-3-2"><text class="t e" x="646" y="2729">2.临沧高校正微信运用集体的年级散布</text></g>
<g id="n8-3-3"><text class="t e" x="646" y="2778">3.临沧高校学生微信运用频率</text></g>
<g id="n8-3-4"><text class="t e" x="646" y="2862">4.临沧高校学生订阅微信大众账号的状况</text></g>
<g id="n8-3-4-1"><text class="t"><tspan x="195" y="2827">微信大众账号具有跨渠道性、开放性强等特色</tspan><tspan x="195" y="2841">，深受大学生的喜爱。临沧师范高级专科有6</tspan><tspan x="195" y="2855">5%的学生现已订阅了不同的微信大众账号。</tspan><tspan x="195" y="2869">查询显现，28%的用户是重视新闻信息，40</tspan><tspan x="195" y="2883">%的用户是为了获取朋友圈内朋友的动态，3</tspan><tspan x="195" y="2897">2%的用户是在重视休闲文娱信息。</tspan></text></g>
<g id="n8-3-5"><text class="t e" x="646" y="2945">5.临沧高校学生对推送音讯的处理</text></g>
</svg>
